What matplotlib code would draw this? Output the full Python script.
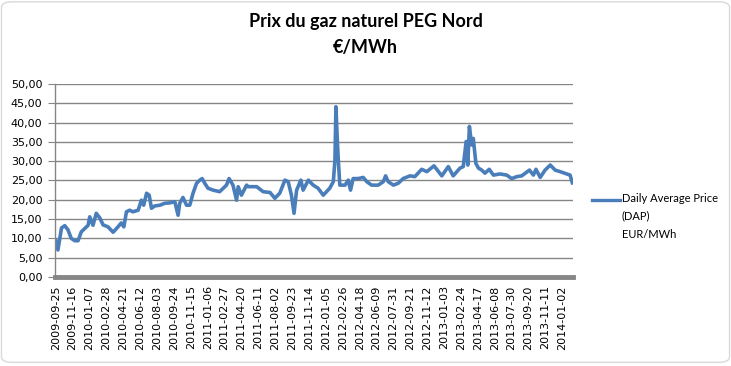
import pandas as pd
import matplotlib
matplotlib.use("Agg")
import matplotlib.pyplot as plt
import matplotlib.dates as mdates
from matplotlib.lines import Line2D
from matplotlib.patches import FancyBboxPatch

# Prix journalier PEG Nord (jours depuis le 2009-09-25)
start = "2009-09-25"
days = [0, 7, 18, 28, 38, 48, 59, 69, 79, 100, 105, 115, 125, 136, 146, 161, 177,
        192, 202, 210, 218, 228, 238, 254, 264, 271, 280, 288, 295, 305, 321, 336,
        351, 367, 377, 382, 392, 403, 413, 423, 434, 444, 451, 459, 469, 485, 505,
        526, 534, 546, 557, 562, 572, 588, 593, 619, 639, 660, 675, 690, 706, 716,
        726, 734, 742, 755, 762, 778, 793, 808, 824, 834, 844, 855, 860, 863, 867,
        870, 875, 891, 901, 908, 916, 932, 947, 958, 973, 993, 1009, 1016, 1024,
        1040, 1055, 1070, 1091, 1106, 1127, 1143, 1165, 1189, 1209, 1224, 1245,
        1255, 1264, 1269, 1274, 1281, 1286, 1294, 1302, 1312, 1322, 1335, 1348,
        1368, 1389, 1404, 1420, 1435, 1459, 1471, 1479, 1492, 1507, 1523, 1538,
        1553, 1574, 1584, 1591]
prix = [9.5, 7.0, 12.7, 13.3, 12.2, 10.0, 9.4, 9.4, 11.7, 13.4, 15.6, 13.4, 16.5,
        15.3, 13.5, 13.0, 11.6, 13.0, 14.0, 13.0, 16.9, 17.3, 16.9, 17.3, 19.9,
        18.6, 21.7, 21.2, 17.8, 18.4, 18.6, 19.1, 19.2, 19.5, 16.0, 19.1, 20.6,
        18.6, 18.6, 21.7, 24.3, 25.1, 25.5, 24.3, 23.0, 22.5, 22.1, 23.8, 25.5,
        23.8, 19.9, 23.4, 21.2, 23.8, 23.4, 23.4, 22.1, 21.9, 20.4, 21.7, 25.1,
        24.7, 21.2, 16.5, 22.5, 25.1, 22.5, 25.1, 23.8, 23.0, 21.2, 22.1, 23.0,
        24.7, 30.3, 44.1, 36.0, 30.8, 23.8, 23.8, 25.1, 22.5, 25.5, 25.5, 25.8,
        24.7, 23.8, 23.8, 24.7, 26.2, 24.7, 23.8, 24.3, 25.5, 26.2, 26.0, 27.9,
        27.3, 28.8, 26.2, 28.6, 26.2, 28.2, 28.6, 35.1, 29.0, 39.0, 34.2, 35.9,
        29.4, 28.2, 27.7, 26.9, 27.9, 26.4, 26.7, 26.4, 25.5, 26.0, 26.2, 27.7,
        26.4, 27.9, 25.8, 27.7, 29.0, 27.7, 27.3, 26.7, 26.4, 24.4]

dates = pd.to_datetime(start) + pd.to_timedelta(days, unit="D")
ticks = pd.date_range(start, periods=31, freq="52D")

bleu = "#4a7ebb"
gris = "#868686"

fig = plt.figure(figsize=(7.31, 3.66), dpi=100)
ax = fig.add_axes([55 / 731, 1 - 277 / 366, 518 / 731, 193 / 366])

ax.plot(dates, prix, color=bleu, lw=2.6, solid_joinstyle="round")

ax.set_ylim(0, 50)
ax.set_yticks(range(0, 51, 5))
ax.set_yticklabels([f"{v},00" for v in range(0, 51, 5)], fontsize=8,
                   family="DejaVu Sans")
ax.set_xlim(pd.to_datetime(start) - pd.Timedelta(days=2),
            pd.to_datetime(start) + pd.Timedelta(days=1593))
ax.set_xticks(ticks)
ax.xaxis.set_major_formatter(mdates.DateFormatter("%Y-%m-%d"))
plt.setp(ax.get_xticklabels(), rotation=90, fontsize=8, family="DejaVu Sans")

ax.grid(axis="y", color=gris, lw=1)
ax.set_axisbelow(True)
for s in ["top", "right"]:
    ax.spines[s].set_visible(False)
ax.spines["left"].set_color(gris)
ax.spines["left"].set_linewidth(1)
ax.spines["bottom"].set_color(gris)
ax.spines["bottom"].set_linewidth(3.5)
ax.tick_params(axis="y", length=5, color=gris, pad=4)
ax.tick_params(axis="x", length=0, pad=6)

fig.text(0.5, 1 - 22 / 366, "Prix du gaz naturel PEG Nord", ha="center",
         va="center", fontsize=13, fontweight="bold", family="Lato")
fig.text(0.5, 1 - 48 / 366, "€/MWh", ha="center",
         va="center", fontsize=13, fontweight="bold", family="Lato")

# légende
fig.add_artist(Line2D([592 / 731, 620 / 731], [1 - 200 / 366] * 2, color=bleu, lw=2.4))
fig.text(622 / 731, 1 - 193 / 366, "Daily Average Price\n(DAP)\nEUR/MWh",
         ha="left", va="top", fontsize=8, family="Lato", linespacing=1.75)

fig.add_artist(FancyBboxPatch((0.002, 0.01), 0.996, 0.985,
                              boxstyle="round,pad=0,rounding_size=0.015",
                              transform=fig.transFigure, fill=False,
                              ec="#d9d9d9", lw=1))

fig.savefig("out.png", dpi=100)
